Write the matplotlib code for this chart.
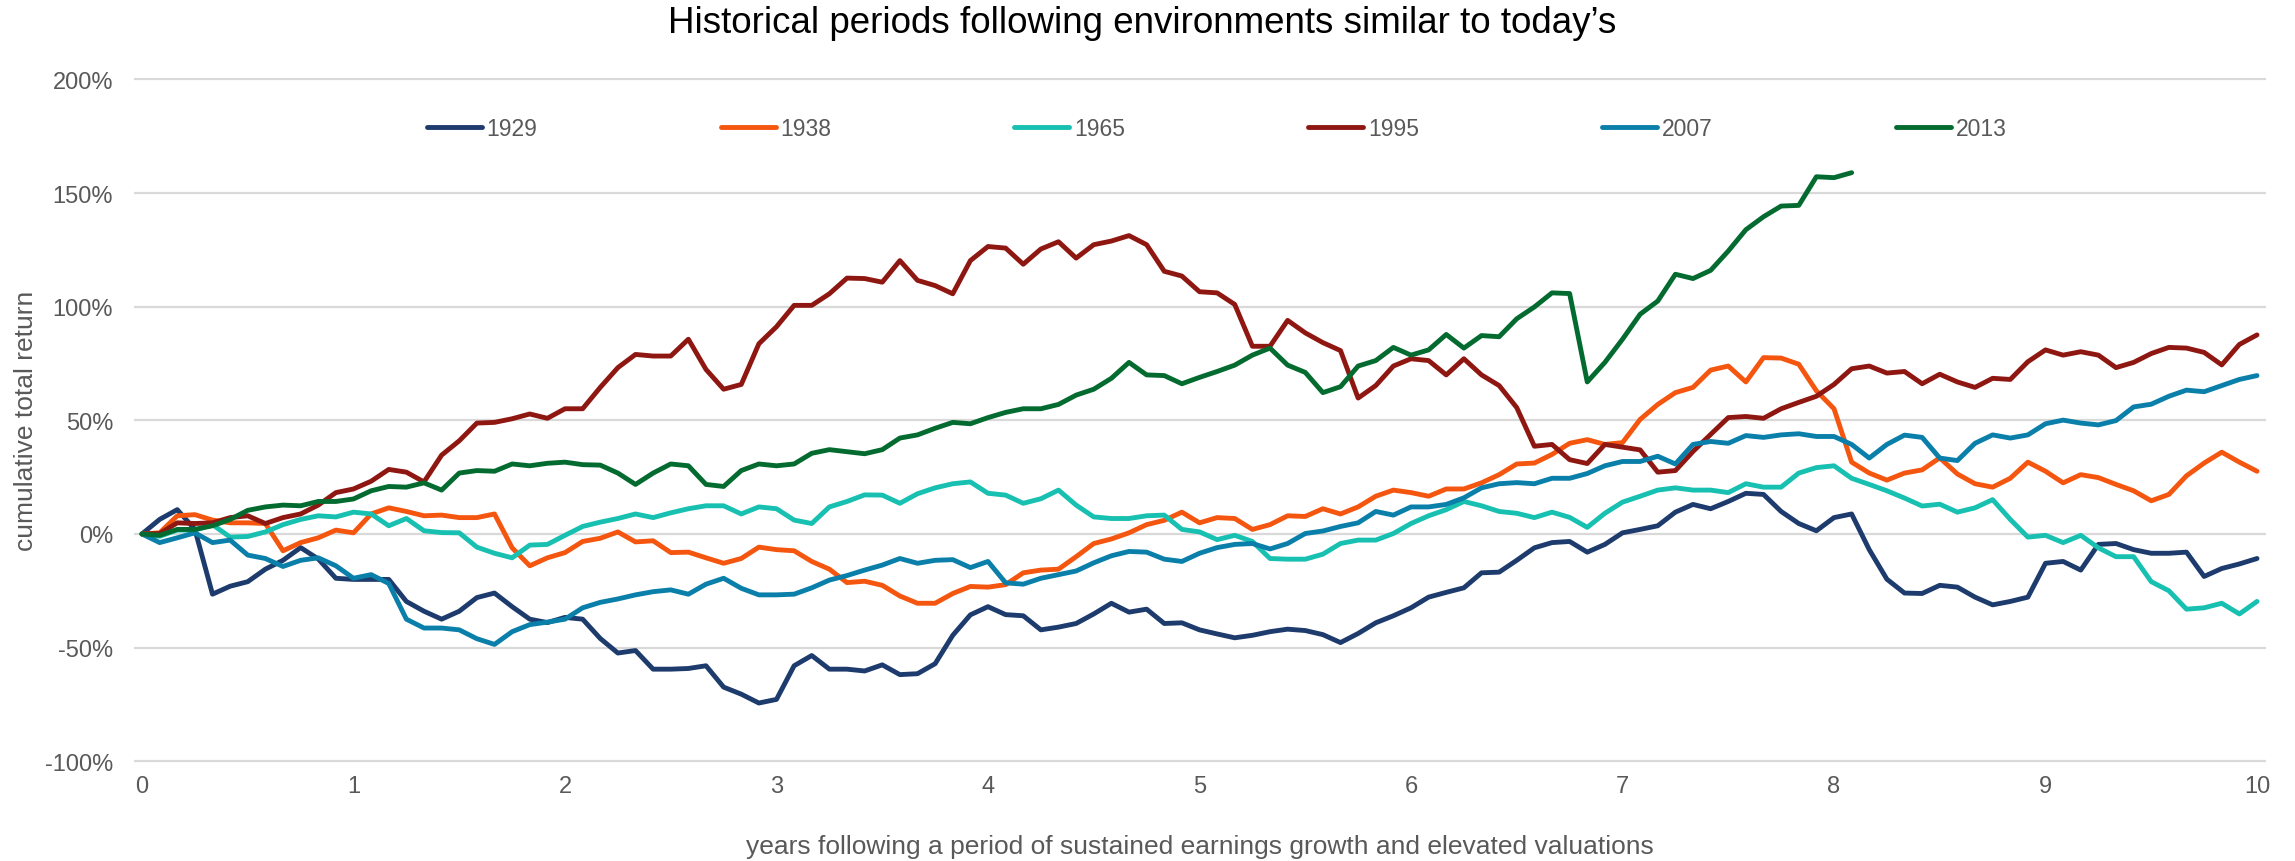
import numpy as np
import matplotlib
matplotlib.use("Agg")
import matplotlib.pyplot as plt
from matplotlib.ticker import FuncFormatter, MultipleLocator

plt.rcParams["font.family"] = ["Liberation Sans", "DejaVu Sans"]

# Cumulative total return (%) by month after the start of each period
labels = ["1929", "1938", "1965", "1995", "2007", "2013"]
colors = ["#1D3B6C", "#F4560F", "#17C0B0", "#8F1712", "#0A7FA9", "#046B30"]

r1929 = [0, 6.4, 10.7, 2, -26.5, -23, -21, -15.5, -11.6, -6, -11, -19.5, -20, -20, -20,
         -29.7, -34, -37.5, -34, -28, -26, -32, -37.5, -39, -36.7, -37.5, -46, -52.4, -51.3,
         -59.5, -59.5, -59.2, -58, -67.4, -70.5, -74.4, -72.8, -58, -53.5, -59.5, -59.5, -60.3,
         -57.6, -61.9, -61.5, -57.1, -44.6, -35.6, -32, -35.5, -36, -42.2, -41, -39.4, -35.2,
         -30.5, -34.4, -33.1, -39.4, -39.1, -42.2, -44, -45.7, -44.6, -43, -41.9, -42.5, -44.3,
         -47.8, -43.8, -39.1, -36, -32.5, -27.8, -25.7, -23.7, -17.1, -16.8, -11.6, -6.1, -3.8,
         -3.3, -8, -4.6, 0.5, 2, 3.6, 9.6, 13, 11.1, 14.3, 17.9, 17.4, 9.9, 4.6, 1.4, 7.2, 8.8,
         -6.9, -19.9, -26, -26.2, -22.6, -23.4, -27.8, -31.2, -29.7, -27.8, -12.9, -12.1, -15.9,
         -4.6, -4.2, -6.9, -8.5, -8.5, -8, -18.7, -15.2, -13.2, -10.8]

r1938 = [0, 0.5, 8, 8.5, 6.1, 4.9, 4.9, 4.6, -7.4, -3.8, -1.7, 1.7, 0.5, 8.8, 11.5, 9.9, 8,
         8.3, 7.2, 7.2, 8.8, -6.1, -14, -10.5, -8.2, -3.3, -1.9, 0.9, -3.5, -3, -8.2, -8, -10.5,
         -12.9, -10.8, -5.8, -6.9, -7.4, -12.1, -15.5, -21.4, -20.8, -22.6, -27.3, -30.5, -30.5,
         -26.2, -23.1, -23.4, -22.3, -17.1, -15.9, -15.5, -10, -4.2, -2.2, 0.5, 4.1, 6, 9.6, 4.9,
         7.2, 6.8, 2, 4.1, 8, 7.7, 11.1, 8.8, 11.9, 16.6, 19.3, 18.2, 16.6, 19.8, 19.8, 22.5,
         26.1, 30.8, 31.2, 35, 39.9, 41.5, 39.4, 40.2, 50.4, 57, 62.2, 64.5, 72.1, 73.9, 66.9,
         77.6, 77.4, 74.7, 63, 55.1, 31.6, 26.8, 23.7, 26.8, 28.2, 33.5, 26.4, 22.1, 20.6, 24.5,
         31.6, 27.6, 22.5, 26.1, 24.8, 21.8, 19, 14.6, 17.4, 25.6, 31.2, 36, 31.6, 27.6]

r1965 = [0, -1, 1.7, 1.7, 4.1, -1.4, -1.1, 0.9, 4.1, 6.4, 8, 7.5, 9.6, 8.8, 3.6, 6.8, 1.4,
         0.6, 0.5, -5.8, -8.5, -10.5, -4.9, -4.6, -0.6, 3.3, 5.2, 6.8, 8.8, 7.2, 9.3, 11.1, 12.4,
         12.4, 8.8, 11.9, 11.1, 6.1, 4.6, 11.9, 14.3, 17.2, 17.1, 13.5, 17.7, 20.3, 22.1, 22.9,
         17.9, 17.1, 13.5, 15.5, 19.3, 12.7, 7.5, 6.8, 6.8, 8, 8.3, 2, 0.9, -2.5, -0.6, -3.3,
         -10.8, -11.1, -11.1, -8.9, -4.2, -2.7, -2.7, 0.2, 4.6, 8, 10.7, 14.3, 12.4, 9.9, 9.1,
         7.2, 9.6, 7.3, 2.9, 9.1, 14, 16.6, 19.3, 20.3, 19.3, 19.3, 18.2, 22.1, 20.6, 20.6, 26.8,
         29.2, 30, 24.5, 21.8, 19, 15.8, 12.3, 13.1, 9.6, 11.5, 15.1, 6.4, -1.4, -0.6, -3.8,
         -0.6, -6.1, -10, -10, -21, -25, -33.1, -32.5, -30.5, -35.2, -29.7]

r1995 = [0, 0.2, 4.9, 4.6, 4.9, 7.2, 8, 4.6, 7.2, 8.8, 12.7, 18.2, 19.8, 23.2, 28.4, 27.2,
         22.9, 34.7, 41, 48.8, 49.1, 50.7, 52.8, 50.9, 55.1, 55.1, 64.5, 73.2, 79, 78.3, 78.3,
         85.7, 72.4, 63.7, 65.8, 83.7, 91.2, 100.6, 100.6, 105.7, 112.6, 112.4, 110.8, 120.3,
         111.6, 109.3, 105.7, 120.3, 126.5, 125.8, 118.7, 125.4, 128.6, 121.4, 127.3, 128.9,
         131.3, 127.3, 115.6, 113.5, 106.6, 106.1, 101, 82.6, 82.6, 94, 88.5, 84.2, 80.7, 59.8,
         65.3, 73.9, 77.1, 76.3, 70, 77.1, 70, 65.3, 55.6, 38.6, 39.4, 32.7, 31, 39.4, 38.2, 37,
         27.2, 27.9, 36.3, 43.8, 51.2, 51.7, 50.9, 55.1, 57.9, 60.6, 65.8, 72.7, 73.9, 70.8,
         71.5, 66.1, 70.3, 66.9, 64.5, 68.5, 68, 75.8, 81, 78.7, 80.2, 78.7, 73.2, 75.5, 79.4,
         82.1, 81.8, 79.9, 74.4, 83.4, 87.6]

r2007 = [0, -3.8, -1.7, 0.5, -3.8, -2.7, -9.3, -10.8, -14.3, -11.6, -10.5, -14, -19.5, -17.9,
         -21.8, -37.5, -41.4, -41.4, -42.2, -46.1, -48.6, -43, -39.9, -38.8, -37.5, -32.5, -30.1,
         -28.6, -26.8, -25.4, -24.6, -26.5, -22.1, -19.5, -23.9, -26.8, -26.8, -26.5, -23.7,
         -20.3, -18.3, -15.9, -13.7, -10.8, -12.9, -11.6, -11.3, -14.8, -12.1, -21.5, -22.1,
         -19.5, -17.9, -16.3, -12.7, -9.6, -7.7, -8, -11.1, -12.1, -8.5, -6, -4.6, -4.2, -6.6,
         -4.2, 0.2, 1.3, 3.3, 4.9, 9.9, 8.3, 11.9, 11.9, 13, 15.9, 20.3, 22.1, 22.6, 22.1, 24.5,
         24.5, 26.6, 30, 31.9, 31.9, 34.2, 30.8, 39.4, 40.7, 39.9, 43.3, 42.5, 43.6, 44.1, 42.9,
         42.9, 39.4, 33.4, 39.4, 43.5, 42.5, 33.4, 32.3, 39.9, 43.6, 42.2, 43.6, 48.5, 50.1,
         48.8, 48, 49.9, 55.9, 57.1, 60.6, 63.3, 62.6, 65.3, 68, 69.7]

r2013 = [0, -0.6, 2, 2, 3.6, 6.4, 10.4, 11.9, 12.7, 12.4, 14.3, 14.3, 15.4, 19, 20.9, 20.6,
         22.5, 19.3, 26.8, 27.9, 27.6, 30.8, 30, 31.1, 31.6, 30.5, 30.3, 26.8, 21.8, 26.8, 30.8,
         30, 21.8, 20.9, 27.9, 30.8, 30, 30.8, 35.5, 37.1, 36.2, 35.3, 37.1, 42.2, 43.6, 46.5,
         49.1, 48.5, 51.2, 53.5, 55.1, 55.1, 57, 61.1, 63.7, 68.5, 75.5, 70, 69.7, 66.1, 68.9,
         71.5, 74.3, 78.7, 81.8, 74.3, 71.1, 62.2, 64.8, 73.9, 76.3, 82.1, 78.7, 81, 87.8, 81.8,
         87.3, 86.8, 94.7, 99.9, 106.1, 105.8, 66.9, 75.5, 85.7, 96.7, 102.5, 114.3, 112.4, 116,
         124.5, 133.9, 139.6, 144.3, 144.6, 157.2, 156.8, 159]

series = [r1929, r1938, r1965, r1995, r2007, r2013]

TEXT_GRAY = "#595959"

fig = plt.figure(figsize=(22.95, 8.62), dpi=100)
ax = fig.add_axes([0.05839, 0.1142, 0.92898, 0.7940])

for vals, lab, col in zip(series, labels, colors):
    years = np.arange(len(vals)) / 12.0
    ax.plot(years, vals, color=col, lw=3.5, label=lab,
            solid_joinstyle="round", solid_capstyle="round")

ax.set_xlim(-0.0378, 10.0426)
ax.set_ylim(-100.6, 200.6)
ax.xaxis.set_major_locator(MultipleLocator(1))
ax.yaxis.set_major_locator(MultipleLocator(50))
ax.yaxis.set_major_formatter(FuncFormatter(lambda v, p: f"{v:.0f}%"))

ax.grid(axis="y", color="#D9D9D9", linewidth=1.6)
ax.grid(axis="x", visible=False)
ax.set_axisbelow(True)
for s in ax.spines.values():
    s.set_visible(False)

ax.tick_params(axis="both", length=0, labelsize=17, labelcolor=TEXT_GRAY)
ax.tick_params(axis="y", pad=15)
ax.tick_params(axis="x", pad=9)

ax.set_xlabel("years following a period of sustained earnings growth and elevated valuations",
              fontsize=19, color=TEXT_GRAY)
ax.xaxis.set_label_coords(0.5, -0.105)
ax.set_ylabel("cumulative total return", fontsize=19, color=TEXT_GRAY)
ax.yaxis.set_label_coords(-0.045, 0.5)

fig.text(0.4976, 0.9617, "Historical periods following environments similar to today\u2019s",
         fontsize=26.5, color="#000000", ha="center", va="baseline")

leg = fig.legend(loc="center", bbox_to_anchor=(0.5301, 0.8492), ncol=6, frameon=False,
                 fontsize=16.5, handlelength=2.4, handletextpad=0.2, columnspacing=8.0,
                 borderpad=0, borderaxespad=0)
for t in leg.get_texts():
    t.set_color(TEXT_GRAY)

fig.savefig("out.png", dpi=100, facecolor="white")
